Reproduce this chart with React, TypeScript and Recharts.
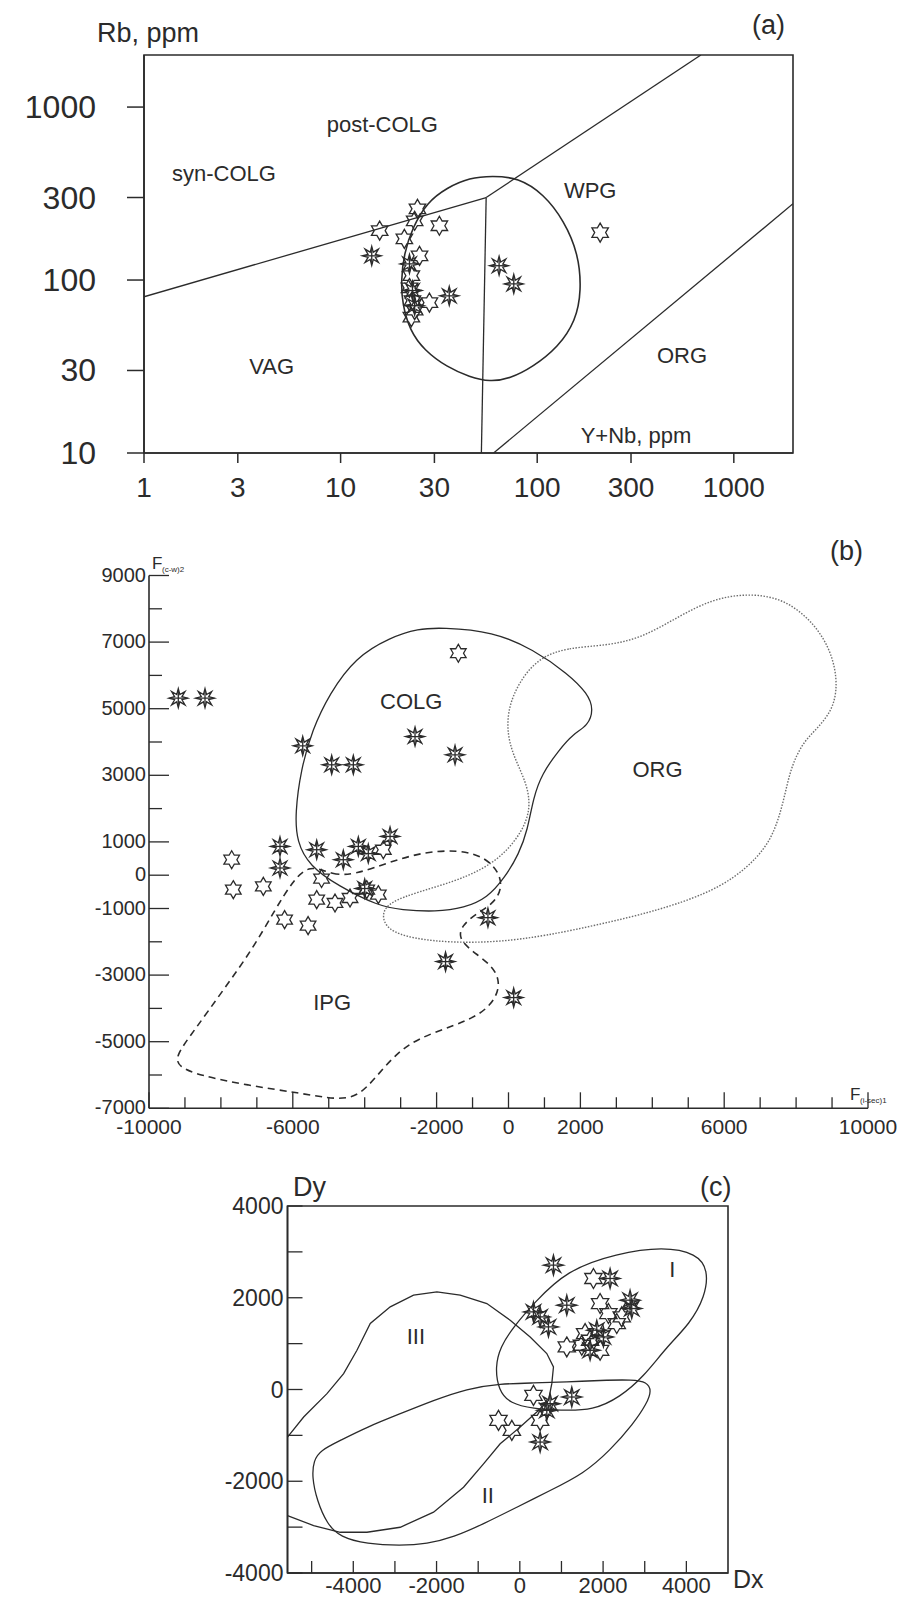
import React from 'react';
import { ScatterChart, Scatter, XAxis, YAxis, ReferenceArea } from 'recharts';

const FONT = '"Liberation Sans", Arial, sans-serif';
const INK = '#2b2b2b';

// ---------- (a) Rb vs Y+Nb ----------
const aXTicks = [1, 3, 10, 30, 100, 300, 1000];
const aYTicks = [10, 30, 100, 300, 1000];
const aOpen = [
  { x: 15.8, y: 193 }, { x: 24.6, y: 258 }, { x: 23.8, y: 220 }, { x: 21.1, y: 173 },
  { x: 25.2, y: 138 }, { x: 22.9, y: 106 }, { x: 22.4, y: 90 }, { x: 23.2, y: 76 },
  { x: 28.3, y: 74 }, { x: 23.8, y: 67 }, { x: 22.9, y: 61 }, { x: 31.8, y: 206 },
  { x: 209, y: 188 },
];
const aStar = [
  { x: 14.4, y: 138 }, { x: 22.4, y: 124 }, { x: 23.2, y: 87 }, { x: 35.7, y: 81 },
  { x: 64, y: 121 }, { x: 76, y: 95 }, { x: 23.8, y: 71 },
];
const aSynVag = [{ x: 1, y: 80 }, { x: 55, y: 300 }];
const aVagWpg = [{ x: 55, y: 300 }, { x: 52, y: 10 }];
const aSynWpg = [{ x: 55, y: 300 }, { x: 680, y: 2000 }];
const aWpgOrg = [{ x: 60, y: 10 }, { x: 2000, y: 276 }];
const aField = [
  { x: 59, y: 400 }, { x: 80, y: 391 }, { x: 108, y: 314 }, { x: 137, y: 220 },
  { x: 162, y: 142 }, { x: 168, y: 87 }, { x: 157, y: 58 }, { x: 128, y: 41 },
  { x: 95, y: 31.4 }, { x: 72.6, y: 26.9 }, { x: 57.4, y: 25.8 }, { x: 45.4, y: 27.5 },
  { x: 34.7, y: 31.4 }, { x: 26.6, y: 39.3 }, { x: 22.5, y: 51 }, { x: 20.6, y: 73 },
  { x: 20.3, y: 99 }, { x: 21, y: 142 }, { x: 23.2, y: 201 }, { x: 27.5, y: 281 },
  { x: 34.7, y: 342 }, { x: 45.4, y: 391 },
];
const aLabels = [
  { x: 16.3, y: 798, label: 'post-COLG' },
  { x: 2.55, y: 411, label: 'syn-COLG' },
  { x: 186, y: 328, label: 'WPG' },
  { x: 4.46, y: 31.7, label: 'VAG' },
  { x: 545, y: 36.7, label: 'ORG' },
  { x: 318, y: 12.7, label: 'Y+Nb, ppm' },
];

// ---------- (b) discriminant functions ----------
const bXTicks = [-10000, -9000, -8000, -7000, -6000, -5000, -4000, -3000, -2000, -1000, 0,
  1000, 2000, 3000, 4000, 5000, 6000, 7000, 8000, 9000, 10000];
const bXLabels = [-10000, -6000, -2000, 0, 2000, 6000, 10000];
const bYTicks = [-7000, -6000, -5000, -4000, -3000, -2000, -1000, 0, 1000, 2000, 3000,
  4000, 5000, 6000, 7000, 8000, 9000];
const bYLabels = [9000, 7000, 5000, 3000, 1000, 0, -1000, -3000, -5000, -7000];
const bStar = [
  { x: -9185, y: 5316 }, { x: -8442, y: 5316 }, { x: -5724, y: 3885 }, { x: -4918, y: 3315 },
  { x: -4316, y: 3315 }, { x: -2600, y: 4164 }, { x: -1487, y: 3615 }, { x: -6356, y: 864 },
  { x: -5335, y: 765 }, { x: -4177, y: 864 }, { x: -3900, y: 650 }, { x: -3295, y: 1164 },
  { x: -4595, y: 465 }, { x: -6356, y: 216 }, { x: -4000, y: -400 }, { x: -572, y: -1275 },
  { x: -1751, y: -2595 }, { x: 144, y: -3675 },
];
const bOpen = [
  { x: -1395, y: 6666 }, { x: -7700, y: 465 }, { x: -7655, y: -435 }, { x: -6820, y: -336 },
  { x: -5200, y: -100 }, { x: -5335, y: -735 }, { x: -4826, y: -834 }, { x: -4408, y: -684 },
  { x: -3944, y: -435 }, { x: -3621, y: -585 }, { x: -3482, y: 765 }, { x: -6228, y: -1335 },
  { x: -5575, y: -1515 },
];
const bColg = [
  { x: -1864, y: 7438 }, { x: -427, y: 7318 }, { x: 691, y: 6777 }, { x: 1649, y: 6055 },
  { x: 2208, y: 5453 }, { x: 2368, y: 4972 }, { x: 2208, y: 4491 }, { x: 1809, y: 4250 },
  { x: 1410, y: 3769 }, { x: 930, y: 3047 }, { x: 691, y: 2325 }, { x: 532, y: 1363 },
  { x: 292, y: 641 }, { x: -108, y: -80 }, { x: -587, y: -682 }, { x: -1226, y: -983 },
  { x: -2024, y: -1103 }, { x: -2982, y: -1043 }, { x: -3621, y: -923 }, { x: -4739, y: -321 },
  { x: -5537, y: 280 }, { x: -5889, y: 1002 }, { x: -5936, y: 1844 }, { x: -5777, y: 3167 },
  { x: -5457, y: 4371 }, { x: -4978, y: 5453 }, { x: -4260, y: 6536 }, { x: -3301, y: 7137 },
  { x: -2503, y: 7402 },
];
const bOrg = [
  { x: 849, y: 6536 }, { x: 1649, y: 6837 }, { x: 2767, y: 6897 }, { x: 3725, y: 7137 },
  { x: 4685, y: 7739 }, { x: 5642, y: 8280 }, { x: 6600, y: 8461 }, { x: 7558, y: 8340 },
  { x: 8357, y: 7739 }, { x: 8916, y: 6897 }, { x: 9155, y: 5934 }, { x: 9075, y: 5092 },
  { x: 8676, y: 4491 }, { x: 8197, y: 4010 }, { x: 7878, y: 3288 }, { x: 7718, y: 2566 },
  { x: 7558, y: 1844 }, { x: 7319, y: 1122 }, { x: 6920, y: 521 }, { x: 6281, y: -81 },
  { x: 5482, y: -562 }, { x: 4205, y: -1043 }, { x: 2609, y: -1464 }, { x: 1011, y: -1825 },
  { x: -267, y: -2005 }, { x: -1545, y: -2029 }, { x: -2663, y: -1909 }, { x: -3381, y: -1645 },
  { x: -3541, y: -1163 }, { x: -3301, y: -802 }, { x: -2503, y: -501 }, { x: -1545, y: -201 },
  { x: -746, y: 160 }, { x: -108, y: 641 }, { x: 372, y: 1303 }, { x: 611, y: 1964 },
  { x: 532, y: 2686 }, { x: 212, y: 3408 }, { x: -28, y: 4130 }, { x: -28, y: 4972 },
  { x: 292, y: 5814 },
];
const bIpg = [
  { x: -5534, y: 341 }, { x: -4896, y: 0 }, { x: -4258, y: 20 }, { x: -3301, y: 400 },
  { x: -2344, y: 700 }, { x: -1384, y: 760 }, { x: -666, y: 560 }, { x: -236, y: 60 },
  { x: -188, y: -439 }, { x: -430, y: -862 }, { x: -907, y: -1160 }, { x: -1306, y: -1523 },
  { x: -1384, y: -1884 }, { x: -1068, y: -2244 }, { x: -430, y: -2726 }, { x: -236, y: -3207 },
  { x: -347, y: -3689 }, { x: -746, y: -4171 }, { x: -1545, y: -4531 }, { x: -2502, y: -4888 },
  { x: -3143, y: -5370 }, { x: -3703, y: -6091 }, { x: -4175, y: -6628 }, { x: -4729, y: -6752 },
  { x: -5839, y: -6535 }, { x: -7226, y: -6318 }, { x: -8613, y: -6007 }, { x: -9168, y: -5758 },
  { x: -9279, y: -5448 }, { x: -8732, y: -4649 }, { x: -7933, y: -3447 }, { x: -7134, y: -2244 },
  { x: -6496, y: -1042 }, { x: -6017, y: -200 },
];
const bLabels = [
  { x: -2707, y: 5229, label: 'COLG' },
  { x: 4143, y: 3165, label: 'ORG' },
  { x: -4906, y: -3831, label: 'IPG' },
];

// ---------- (c) Dx vs Dy ----------
const cXTicks = [-5000, -4000, -3000, -2000, -1000, 0, 1000, 2000, 3000, 4000];
const cXLabels = [-4000, -2000, 0, 2000, 4000];
const cYTicks = [-4000, -3000, -2000, -1000, 0, 1000, 2000, 3000, 4000];
const cYLabels = [-4000, -2000, 0, 2000, 4000];
const cStar = [
  { x: 808, y: 2711 }, { x: 2168, y: 2420 }, { x: 1128, y: 1838 }, { x: 328, y: 1692 },
  { x: 488, y: 1583 }, { x: 688, y: 1365 }, { x: 2648, y: 1947 }, { x: 2688, y: 1765 },
  { x: 1848, y: 1292 }, { x: 2008, y: 1146 }, { x: 1688, y: 855 }, { x: 728, y: -309 },
  { x: 648, y: -455 }, { x: 1248, y: -164 }, { x: 488, y: -1146 },
];
const cOpen = [
  { x: 1768, y: 2420 }, { x: 1928, y: 1874 }, { x: 2128, y: 1656 }, { x: 2448, y: 1583 },
  { x: 1568, y: 1219 }, { x: 1128, y: 928 }, { x: 1488, y: 965 }, { x: 1928, y: 855 },
  { x: 328, y: -127 }, { x: -512, y: -673 }, { x: -192, y: -892 }, { x: 488, y: -673 },
  { x: 2328, y: 1438 }, { x: 1688, y: 1074 },
];
const cField1 = [
  { x: 328, y: 1874 }, { x: 1128, y: 2602 }, { x: 2328, y: 2966 }, { x: 3448, y: 3112 },
  { x: 4248, y: 2966 }, { x: 4528, y: 2602 }, { x: 4448, y: 2020 }, { x: 4088, y: 1438 },
  { x: 3528, y: 928 }, { x: 2968, y: 273 }, { x: 2408, y: -164 }, { x: 1768, y: -455 },
  { x: 968, y: -455 }, { x: 328, y: -419 }, { x: -232, y: -309 }, { x: -512, y: -18 },
  { x: -592, y: 491 }, { x: -472, y: 928 }, { x: -152, y: 1365 },
];
const cField2 = [
  { x: -4792, y: -1328 }, { x: -4312, y: -1110 }, { x: -3672, y: -819 }, { x: -2872, y: -528 },
  { x: -2072, y: -237 }, { x: -1272, y: 18 }, { x: -472, y: 127 }, { x: 328, y: 142 },
  { x: 1128, y: 164 }, { x: 1928, y: 200 }, { x: 2728, y: 215 }, { x: 3048, y: 164 },
  { x: 3168, y: -18 }, { x: 3048, y: -309 }, { x: 2728, y: -746 }, { x: 2168, y: -1328 },
  { x: 1528, y: -1838 }, { x: 728, y: -2202 }, { x: -72, y: -2566 }, { x: -872, y: -2930 },
  { x: -1592, y: -3221 }, { x: -2232, y: -3367 }, { x: -2872, y: -3403 }, { x: -3672, y: -3367 },
  { x: -4312, y: -3221 }, { x: -4632, y: -2930 }, { x: -4872, y: -2420 }, { x: -4992, y: -1911 },
  { x: -4952, y: -1547 },
];
const cField3 = [
  { x: -5580, y: -1037 }, { x: -5192, y: -600 }, { x: -4632, y: -91 }, { x: -4232, y: 346 },
  { x: -3912, y: 855 }, { x: -3592, y: 1438 }, { x: -3112, y: 1802 }, { x: -2552, y: 2056 },
  { x: -1992, y: 2129 }, { x: -1432, y: 2056 }, { x: -792, y: 1874 }, { x: -232, y: 1510 },
  { x: 248, y: 1146 }, { x: 648, y: 783 }, { x: 808, y: 491 }, { x: 768, y: 127 },
  { x: 688, y: -237 }, { x: 408, y: -491 }, { x: 8, y: -819 }, { x: -472, y: -1183 },
  { x: -872, y: -1620 }, { x: -1352, y: -2129 }, { x: -2072, y: -2675 }, { x: -2872, y: -3003 },
  { x: -3672, y: -3112 }, { x: -4312, y: -3112 }, { x: -4952, y: -2966 }, { x: -5580, y: -2748 },
];
const cLabels = [
  { x: 3665, y: 2605, label: 'I' },
  { x: -768, y: -2300, label: 'II' },
  { x: -2496, y: 1151, label: 'III' },
];

// ---------- marker shapes ----------
const noDot = () => <g />;

const hexShape = (r: number) => (p: any) => {
  const pts: string[] = [];
  for (let k = 0; k < 12; k++) {
    const a = -Math.PI / 2 + (k * Math.PI) / 6;
    const rr = k % 2 === 0 ? r : r * 0.577;
    pts.push(`${p.cx + rr * Math.cos(a)},${p.cy + rr * Math.sin(a)}`);
  }
  return <polygon points={pts.join(' ')} fill="none" stroke={INK} strokeWidth={1.3} />;
};

const astShape = (r: number) => (p: any) => {
  const pts: string[] = [];
  for (let k = 0; k < 16; k++) {
    const a = -Math.PI / 2 + (k * Math.PI) / 8;
    const rr = k % 2 === 0 ? r : r * 0.42;
    pts.push(`${p.cx + rr * Math.cos(a)},${p.cy + rr * Math.sin(a)}`);
  }
  return (
    <g stroke={INK} strokeWidth={1.3} fill="none">
      <polygon points={pts.join(' ')} />
      <line x1={p.cx - r * 0.85} y1={p.cy} x2={p.cx + r * 0.85} y2={p.cy} />
      <line x1={p.cx} y1={p.cy - r * 0.85} x2={p.cx} y2={p.cy + r * 0.85} />
    </g>
  );
};

const textShape = (size: number) => (p: any) => (
  <text x={p.cx} y={p.cy} textAnchor="middle" dominantBaseline="central"
    fontSize={size} fill={INK} fontFamily={FONT}>{p.payload.label}</text>
);

const outline = (data: any[], opts: { dash?: string; color?: string; closed?: boolean; width?: number }) => (
  <Scatter data={data} isAnimationActive={false} shape={noDot}
    lineJointType={opts.closed ? 'basisClosed' : 'linear'}
    line={{ stroke: opts.color || INK, strokeWidth: opts.width || 1.3, strokeDasharray: opts.dash }} />
);

// ---------- tick renderers ----------
const aXTick = ({ x, y, payload }: any) => (
  <g>
    <line x1={x} y1={y} x2={x} y2={y + 10} stroke={INK} strokeWidth={1.5} />
    <text x={x} y={y + 44} textAnchor="middle" fontSize={28} fill={INK} fontFamily={FONT}>{payload.value}</text>
  </g>
);
const aYTick = ({ x, y, payload }: any) => (
  <g>
    <line x1={x - 17} y1={y} x2={x} y2={y} stroke={INK} strokeWidth={1.5} />
    <text x={x - 48} y={y + 11} textAnchor="end" fontSize={32} fill={INK} fontFamily={FONT}>{payload.value}</text>
  </g>
);
const bXTick = ({ x, y, payload }: any) => {
  const major = bXLabels.includes(payload.value);
  return (
    <g>
      <line x1={x} y1={y} x2={x} y2={y - (major ? 16 : 11)} stroke={INK} strokeWidth={1.3} />
      {major && <text x={x} y={y + 26} textAnchor="middle" fontSize={21} fill={INK} fontFamily={FONT}>{payload.value}</text>}
    </g>
  );
};
const bYTick = ({ x, y, payload }: any) => {
  const major = bYLabels.includes(payload.value);
  return (
    <g>
      <line x1={x} y1={y} x2={x + (major ? 20 : 13)} y2={y} stroke={INK} strokeWidth={1.3} />
      {major && <text x={x - 3} y={y + 6} textAnchor="end" fontSize={20} fill={INK} fontFamily={FONT}>{payload.value}</text>}
    </g>
  );
};
const cXTick = ({ x, y, payload }: any) => (
  <g>
    <line x1={x} y1={y} x2={x} y2={y - 12} stroke={INK} strokeWidth={1.3} />
    {cXLabels.includes(payload.value) && (
      <text x={x} y={y + 20} textAnchor="middle" fontSize={22} fill={INK} fontFamily={FONT}>{payload.value}</text>
    )}
  </g>
);
const cYTick = ({ x, y, payload }: any) => (
  <g>
    <line x1={x} y1={y} x2={x + 15} y2={y} stroke={INK} strokeWidth={1.3} />
    {cYLabels.includes(payload.value) && (
      <text x={x - 4} y={y + 8} textAnchor="end" fontSize={23} fill={INK} fontFamily={FONT}>{payload.value}</text>
    )}
  </g>
);

const axisLine = { stroke: INK, strokeWidth: 1.6 };

export default function App() {
  return (
    <div style={{ position: 'absolute', left: 0, top: 0, width: 898, height: 1597, background: '#fff', overflow: 'hidden' }}>
      {/* (a) */}
      <div style={{ position: 'absolute', left: 0, top: 0 }}>
        <ScatterChart width={898} height={510} margin={{ top: 55, right: 105, bottom: 17, left: 84 }}>
          <XAxis type="number" dataKey="x" scale="log" domain={[1, 2000]} ticks={aXTicks} allowDataOverflow
            height={40} interval={0} tickSize={0} tickMargin={0} tickLine={false} axisLine={axisLine} tick={aXTick} />
          <YAxis type="number" dataKey="y" scale="log" domain={[10, 2000]} ticks={aYTicks} allowDataOverflow
            width={60} interval={0} tickSize={0} tickMargin={0} tickLine={false} axisLine={axisLine} tick={aYTick} />
          <ReferenceArea x1={1} x2={2000} y1={10} y2={2000} fill="none" stroke={INK} strokeWidth={1.6} />
          {outline(aSynVag, {})}
          {outline(aVagWpg, {})}
          {outline(aSynWpg, {})}
          {outline(aWpgOrg, {})}
          {outline(aField, { closed: true, width: 1.6 })}
          <Scatter data={aLabels} shape={textShape(22)} isAnimationActive={false} />
          <Scatter data={aOpen} shape={hexShape(9.5)} isAnimationActive={false} />
          <Scatter data={aStar} shape={astShape(9.5)} isAnimationActive={false} />
        </ScatterChart>
      </div>

      {/* (b) */}
      <div style={{ position: 'absolute', left: 0, top: 510 }}>
        <ScatterChart width={898} height={640} margin={{ top: 65.5, right: 30, bottom: 1.7, left: 89 }}>
          <XAxis type="number" dataKey="x" domain={[-10000, 10000]} ticks={bXTicks} allowDataOverflow
            height={40} interval={0} tickSize={0} tickMargin={0} tickLine={false} axisLine={axisLine} tick={bXTick} />
          <YAxis type="number" dataKey="y" domain={[-7000, 9000]} ticks={bYTicks} allowDataOverflow
            width={60} interval={0} tickSize={0} tickMargin={0} tickLine={false} axisLine={axisLine} tick={bYTick} />
          {outline(bOrg, { closed: true, dash: '1.5 1.5', color: '#6d6d6d', width: 1.4 })}
          {outline(bColg, { closed: true, width: 1.3 })}
          {outline(bIpg, { closed: true, dash: '7 5', width: 1.6 })}
          <Scatter data={bLabels} shape={textShape(22)} isAnimationActive={false} />
          <Scatter data={bOpen} shape={hexShape(9)} isAnimationActive={false} />
          <Scatter data={bStar} shape={astShape(9.5)} isAnimationActive={false} />
        </ScatterChart>
      </div>

      {/* (c) */}
      <div style={{ position: 'absolute', left: 0, top: 1120 }}>
        <ScatterChart width={898} height={477} margin={{ top: 86, right: 170, bottom: 4, left: 227.5 }}>
          <XAxis type="number" dataKey="x" domain={[-5580, 5000]} ticks={cXTicks} allowDataOverflow
            height={20} interval={0} tickSize={0} tickMargin={0} tickLine={false} axisLine={axisLine} tick={cXTick} />
          <YAxis type="number" dataKey="y" domain={[-4000, 4000]} ticks={cYTicks} allowDataOverflow
            width={60} interval={0} tickSize={0} tickMargin={0} tickLine={false} axisLine={axisLine} tick={cYTick} />
          <ReferenceArea x1={-5580} x2={5000} y1={-4000} y2={4000} fill="none" stroke={INK} strokeWidth={1.6} />
          {outline(cField1, { closed: true })}
          {outline(cField2, { closed: true })}
          {outline(cField3, {})}
          <Scatter data={cLabels} shape={textShape(22)} isAnimationActive={false} />
          <Scatter data={cOpen} shape={hexShape(10)} isAnimationActive={false} />
          <Scatter data={cStar} shape={astShape(10)} isAnimationActive={false} />
        </ScatterChart>
      </div>

      {/* titles */}
      <svg width={898} height={1597} style={{ position: 'absolute', left: 0, top: 0, pointerEvents: 'none' }}
        fontFamily={FONT} fill={INK}>
        <text x={97} y={42} fontSize={27}>Rb, ppm</text>
        <text x={752} y={34} fontSize={27}>(a)</text>
        <text x={830} y={560} fontSize={27}>(b)</text>
        <text x={152} y={569} fontSize={17}>F</text>
        <text x={162} y={572} fontSize={8}>(c-w)2</text>
        <text x={850} y={1100} fontSize={17}>F</text>
        <text x={860} y={1103} fontSize={8}>(i-sec)1</text>
        <text x={293} y={1196} fontSize={27}>Dy</text>
        <text x={700} y={1196} fontSize={27}>(c)</text>
        <text x={733} y={1588} fontSize={25}>Dx</text>
      </svg>
    </div>
  );
}
